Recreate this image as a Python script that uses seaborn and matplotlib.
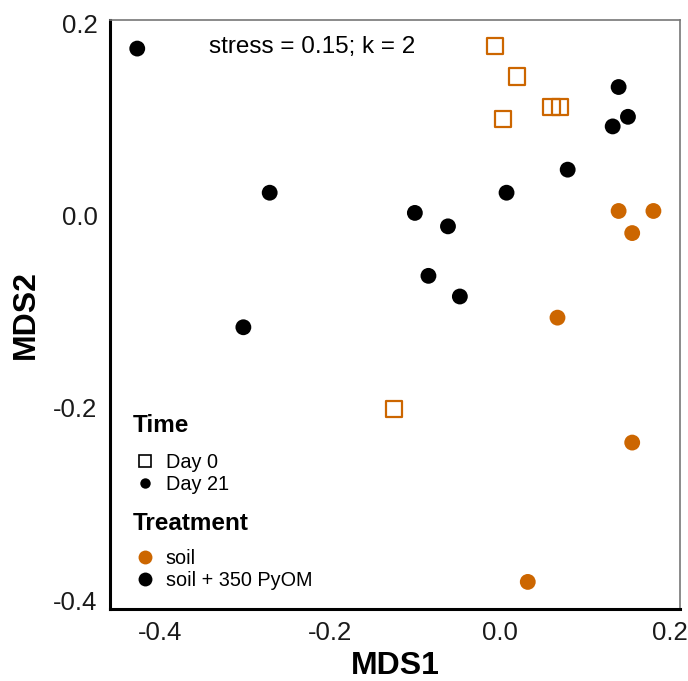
import matplotlib
matplotlib.use("Agg")
import matplotlib.pyplot as plt
import seaborn as sns
import pandas as pd
from matplotlib.lines import Line2D

sns.set_theme(style="white")
plt.rcParams['font.family'] = ['Liberation Sans', 'DejaVu Sans']
plt.rcParams['text.color'] = 'black'
plt.rcParams['axes.labelcolor'] = 'black'

# Day 21, soil + 350 PyOM
pyom21_x = [-0.427, -0.271, -0.302, -0.100, -0.061, -0.084, -0.047, 0.008, 0.080, 0.140, 0.151, 0.133]
pyom21_y = [0.174, 0.024, -0.116, 0.003, -0.011, -0.0625, -0.084, 0.024, 0.048, 0.134, 0.103, 0.093]
# Day 21, soil
soil21_x = [0.140, 0.181, 0.156, 0.068, 0.156, 0.033]
soil21_y = [0.005, 0.005, -0.018, -0.106, -0.236, -0.381]
# Day 0, soil
soil0_x = [-0.006, 0.020, 0.004, 0.061, 0.071, -0.125]
soil0_y = [0.177, 0.145, 0.101, 0.113, 0.113, -0.201]

treatments = ["soil", "soil + 350 PyOM"]
times = ["Day 0", "Day 21"]
colors = {"soil": "#CC6600", "soil + 350 PyOM": "#000000"}

df = pd.DataFrame({
    "MDS1": pyom21_x + soil21_x + soil0_x,
    "MDS2": pyom21_y + soil21_y + soil0_y,
    "Treatment": ["soil + 350 PyOM"] * len(pyom21_x) + ["soil"] * len(soil21_x) + ["soil"] * len(soil0_x),
    "Time": ["Day 21"] * len(pyom21_x) + ["Day 21"] * len(soil21_x) + ["Day 0"] * len(soil0_x),
})

fig = plt.figure(figsize=(6.88, 6.81), dpi=100)
ax = fig.add_axes([0.160, 0.106, 0.828, 0.865])

d21 = df[df["Time"] == "Day 21"]
d0 = df[df["Time"] == "Day 0"]
sns.scatterplot(data=d21, x="MDS1", y="MDS2", hue="Treatment", palette=colors,
                marker="o", s=130, linewidth=0, ax=ax, legend=False, zorder=3)
for tr in treatments:
    sub = d0[d0["Treatment"] == tr]
    if len(sub):
        ax.scatter(sub["MDS1"], sub["MDS2"], marker="s", s=135, facecolors="none",
                   edgecolors=colors[tr], linewidths=1.6, zorder=3)

ax.set_xlim(-0.459, 0.212)
ax.set_ylim(-0.409, 0.204)
ax.set_xticks([-0.4, -0.2, 0.0, 0.2])
ax.set_yticks([-0.4, -0.2, 0.0, 0.2])
ax.set_xticklabels(["-0.4", "-0.2", "0.0", "0.2"])
ax.set_yticklabels(["-0.4", "-0.2", "0.0", "0.2"])
ax.tick_params(axis="both", labelsize=18.5, labelcolor="#1a1a1a", length=0, pad=9)
ax.set_xlabel("MDS1", fontsize=23, fontweight="bold", labelpad=4, color="black")
ax.set_ylabel("MDS2", fontsize=23, fontweight="bold", labelpad=9, color="black")

for s in ["left", "bottom"]:
    ax.spines[s].set_color("black")
    ax.spines[s].set_linewidth(2.2)
for s in ["top", "right"]:
    ax.spines[s].set_color("#777777")
    ax.spines[s].set_linewidth(1.2)

ax.text(-0.221, 0.176, "stress = 0.15; k = 2", fontsize=17.5, ha="center", va="center", color="black")

time_handles = [
    Line2D([], [], marker="s", linestyle="none", markersize=9, markerfacecolor="none",
           markeredgecolor="black", markeredgewidth=1.2, label="Day 0"),
    Line2D([], [], marker="o", linestyle="none", markersize=7.5, markerfacecolor="black",
           markeredgewidth=0, label="Day 21"),
]
treat_handles = [
    Line2D([], [], marker="o", linestyle="none", markersize=10, markerfacecolor=colors[t],
           markeredgewidth=0, label=t) for t in treatments
]
common = dict(loc="upper left", frameon=False, fontsize=14.3,
              handletextpad=0.5, labelspacing=0.15, borderaxespad=0, handlelength=1.1,
              borderpad=0)

# section titles (axes fraction coordinates)
ax.text(0.04, (609 - 426) / 589, "Time", transform=ax.transAxes, fontsize=17.5,
        fontweight="bold", ha="left", va="center")
ax.text(0.04, (609 - 524) / 589, "Treatment", transform=ax.transAxes, fontsize=17.5,
        fontweight="bold", ha="left", va="center")

leg1 = ax.legend(handles=time_handles, bbox_to_anchor=(0.042, (609 - 453) / 589), **common)
ax.add_artist(leg1)
leg2 = ax.legend(handles=treat_handles, bbox_to_anchor=(0.042, (609 - 549) / 589), **common)

fig.savefig("out.png", dpi=100)
